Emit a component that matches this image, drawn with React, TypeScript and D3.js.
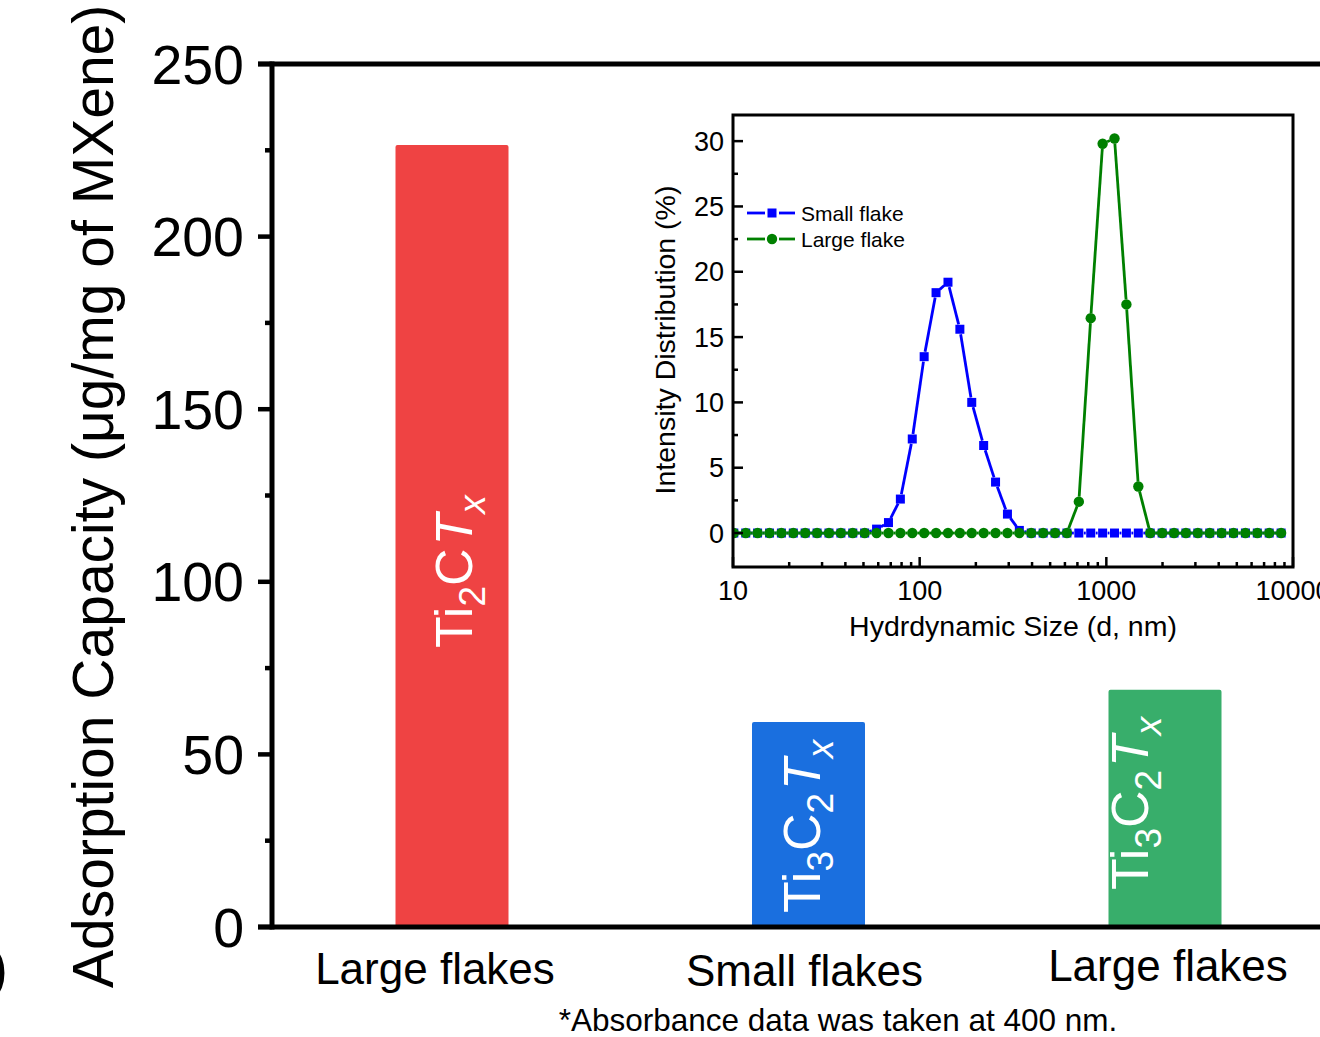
import React from "react";
import * as d3 from "d3";

// main bar chart data
const categories = ["Large flakes", "Small flakes", "Large flakes"];
const capacity = [226.5, 59.4, 68.7];
const barColors = ["#EF4343", "#1A6FDF", "#38AE6B"];
const yTicks = [0, 50, 100, 150, 200, 250];

// bar label text, segments of [text, isSub, isItalic]
const materials = [
  [["Ti", 0, 0], ["2", 1, 0], ["C", 0, 0], ["T", 0, 1], ["x", 1, 1]],
  [["Ti", 0, 0], ["3", 1, 0], ["C", 0, 0], ["2", 1, 0], ["T", 0, 1], ["x", 1, 1]],
  [["Ti", 0, 0], ["3", 1, 0], ["C", 0, 0], ["2", 1, 0], ["T", 0, 1], ["x", 1, 1]],
];

// inset (DLS) data
const sizeBins = [
  10.1, 11.7, 13.54, 15.69, 18.17, 21.04, 24.36, 28.21, 32.67, 37.84, 43.82, 50.75,
  58.77, 68.06, 78.82, 91.28, 105.7, 122.4, 141.8, 164.2, 190.1, 220.2, 255.0, 295.3,
  342.0, 396.1, 458.7, 531.2, 615.1, 712.4, 825.0, 955.4, 1106, 1281, 1484, 1718,
  1990, 2305, 2669, 3091, 3580, 4145, 4801, 5560, 6439, 7456, 8635,
];
const smallFlake = [
  0, 0, 0, 0, 0, 0, 0, 0, 0, 0, 0, 0,
  0.3, 0.8, 2.6, 7.2, 13.5, 18.4, 19.2, 15.6, 10.0, 6.7, 3.9, 1.45,
  0.2, 0, 0, 0, 0, 0, 0, 0, 0, 0, 0, 0,
  0, 0, 0, 0, 0, 0, 0, 0, 0, 0, 0,
];
const largeFlake = [
  0, 0, 0, 0, 0, 0, 0, 0, 0, 0, 0, 0,
  0, 0, 0, 0, 0, 0, 0, 0, 0, 0, 0, 0,
  0, 0, 0, 0, 0, 2.4, 16.45, 29.8, 30.2, 17.5, 3.56, 0,
  0, 0, 0, 0, 0, 0, 0, 0, 0, 0, 0,
];
const insetYTicks = [0, 5, 10, 15, 20, 25, 30];
const insetXTicks = [10, 100, 1000, 10000];

const FONT = "'Liberation Sans', Arial, Helvetica, sans-serif";

// layout tweaks for hand-placed labels in the original
const catLabelDx = [-17, -4, 3];
const catLabelY = [984, 986, 981];
const barLabelX = [472, 820, 1148];
const barLabelY = [648, 913, 890];

function Series({ xs, ys, x, y, color, shape }) {
  const pts = xs.map((d, i) => [x(d), y(ys[i])]);
  const gap = 5;
  const segs = [];
  for (let i = 0; i < pts.length - 1; i++) {
    const [x1, y1] = pts[i];
    const [x2, y2] = pts[i + 1];
    const len = Math.hypot(x2 - x1, y2 - y1);
    if (len <= gap * 2) continue;
    const ux = (x2 - x1) / len, uy = (y2 - y1) / len;
    segs.push(
      <line key={i} x1={x1 + ux * gap} y1={y1 + uy * gap} x2={x2 - ux * gap} y2={y2 - uy * gap}
        stroke={color} strokeWidth={2.8} />
    );
  }
  return (
    <g>
      {segs}
      {pts.map(([px, py], i) =>
        shape === "square" ? (
          <rect key={"m" + i} x={px - 4.5} y={py - 4.5} width={9} height={9} fill={color} />
        ) : (
          <circle key={"m" + i} cx={px} cy={py} r={5.2} fill={color} />
        )
      )}
    </g>
  );
}

function Inset() {
  const left = 733, right = 1293, top = 115, bottom = 567;
  const x = d3.scaleLog().domain([10, 10000]).range([left, right]);
  const y = d3.scaleLinear().domain([-2.6, 32]).range([bottom, top]);
  const minorY = d3.range(2.5, 32, 5);
  const minorX = [];
  for (const dec of [10, 100, 1000]) for (let k = 2; k <= 9; k++) minorX.push(dec * k);

  return (
    <g fontFamily={FONT}>
      <defs>
        <clipPath id="insetClip">
          <rect x={left - 1} y={top} width={right - left + 2} height={bottom - top} />
        </clipPath>
      </defs>
      <rect x={left} y={top} width={right - left} height={bottom - top} fill="white" />
      <g clipPath="url(#insetClip)">
        <Series xs={sizeBins} ys={smallFlake} x={x} y={y} color="#0000FF" shape="square" />
        <Series xs={sizeBins} ys={largeFlake} x={x} y={y} color="#008000" shape="circle" />
      </g>
      <rect x={left} y={top} width={right - left} height={bottom - top} fill="none" stroke="black" strokeWidth={3} />
      {insetYTicks.map((t) => (
        <g key={"yt" + t}>
          <line x1={left} x2={left + 10} y1={y(t)} y2={y(t)} stroke="black" strokeWidth={2.5} />
          <text x={724} y={y(t) + 9.5} fontSize={27} textAnchor="end">{t}</text>
        </g>
      ))}
      {minorY.map((t) => (
        <line key={"ym" + t} x1={left} x2={left + 5} y1={y(t)} y2={y(t)} stroke="black" strokeWidth={2.5} />
      ))}
      {insetXTicks.map((t) => (
        <g key={"xt" + t}>
          <line x1={x(t)} x2={x(t)} y1={bottom} y2={bottom - 10} stroke="black" strokeWidth={2.5} />
          <text x={x(t)} y={600} fontSize={27} textAnchor="middle">{t}</text>
        </g>
      ))}
      {minorX.map((t) => (
        <line key={"xm" + t} x1={x(t)} x2={x(t)} y1={bottom} y2={bottom - 5} stroke="black" strokeWidth={2.5} />
      ))}
      <text x={1013} y={636} fontSize={28.5} textAnchor="middle">Hydrdynamic Size (d, nm)</text>
      <text transform={`translate(675,340) rotate(-90)`} fontSize={28.5} textAnchor="middle">
        Intensity Distribution (%)
      </text>
      {/* legend */}
      {[
        { name: "Small flake", color: "#0000FF", shape: "square", cy: 213 },
        { name: "Large flake", color: "#008000", shape: "circle", cy: 239 },
      ].map((l) => (
        <g key={l.name}>
          <line x1={747} x2={765} y1={l.cy} y2={l.cy} stroke={l.color} strokeWidth={2.8} />
          <line x1={779} x2={795} y1={l.cy} y2={l.cy} stroke={l.color} strokeWidth={2.8} />
          {l.shape === "square" ? (
            <rect x={767.5} y={l.cy - 4.5} width={9} height={9} fill={l.color} />
          ) : (
            <circle cx={772} cy={l.cy} r={5.2} fill={l.color} />
          )}
          <text x={801} y={l.cy + 7.5} fontSize={21}>{l.name}</text>
        </g>
      ))}
    </g>
  );
}

function Formula({ parts }) {
  let shift = 0;
  return (
    <>
      {parts.map(([t, sub, it], k) => {
        const target = sub ? 13 : 0;
        const dy = target - shift;
        shift = target;
        return (
          <tspan key={k} dy={dy} dx={it && !sub ? 3 : 0} fontSize={sub ? 37 : 52}
            fontStyle={it ? "italic" : "normal"}>
            {t}
          </tspan>
        );
      })}
    </>
  );
}

export default function App() {
  const width = 1320, height = 1037;
  const plotLeft = 272, plotTop = 64, plotBottom = 927;
  const y = d3.scaleLinear().domain([0, 250]).range([plotBottom, plotTop]);
  const x = d3.scalePoint().domain(d3.range(categories.length).map(String)).range([452, 1165]);
  const barW = 113;
  const minor = d3.range(25, 250, 50);

  return (
    <svg width={width} height={height} style={{ position: "absolute", left: 0, top: 0, background: "white" }}
      fontFamily={FONT}>
      <rect width={width} height={height} fill="white" />
      {/* bars */}
      {capacity.map((v, i) => (
        <rect key={i} x={x(String(i)) - barW / 2} y={y(v)} width={barW} height={y(0) - y(v)}
          fill={barColors[i]} rx={2} />
      ))}
      {/* bar labels */}
      {materials.map((m, i) => (
        <text key={"bl" + i} transform={`translate(${barLabelX[i]},${barLabelY[i]}) rotate(-90)`}
          fill="white" fontSize={52}>
          <Formula parts={m} />
        </text>
      ))}
      {/* frame */}
      <line x1={258} x2={1345} y1={plotTop} y2={plotTop} stroke="black" strokeWidth={5} />
      <line x1={258} x2={1345} y1={plotBottom} y2={plotBottom} stroke="black" strokeWidth={5} />
      <line x1={plotLeft} x2={plotLeft} y1={plotTop - 2.5} y2={plotBottom + 2.5} stroke="black" strokeWidth={5} />
      {yTicks.map((t) => (
        <g key={t}>
          <line x1={258} x2={plotLeft} y1={y(t)} y2={y(t)} stroke="black" strokeWidth={4.5} />
          <text x={244} y={y(t) + 19.5} fontSize={55.5} textAnchor="end">{t}</text>
        </g>
      ))}
      {minor.map((t) => (
        <line key={"m" + t} x1={265} x2={plotLeft} y1={y(t)} y2={y(t)} stroke="black" strokeWidth={4.5} />
      ))}
      {categories.map((c, i) => (
        <text key={"c" + i} x={x(String(i)) + catLabelDx[i]} y={catLabelY[i]} fontSize={44} textAnchor="middle">
          {c}
        </text>
      ))}
      <text transform="translate(113,988) rotate(-90)" fontSize={57}>
        Adsorption Capacity (μg/mg of MXene)
      </text>
      <text x={8} y={988} fontSize={57} textAnchor="end">(b)</text>
      <text x={838} y={1031} fontSize={31.5} textAnchor="middle">*Absorbance data was taken at 400 nm.</text>
      <Inset />
    </svg>
  );
}
